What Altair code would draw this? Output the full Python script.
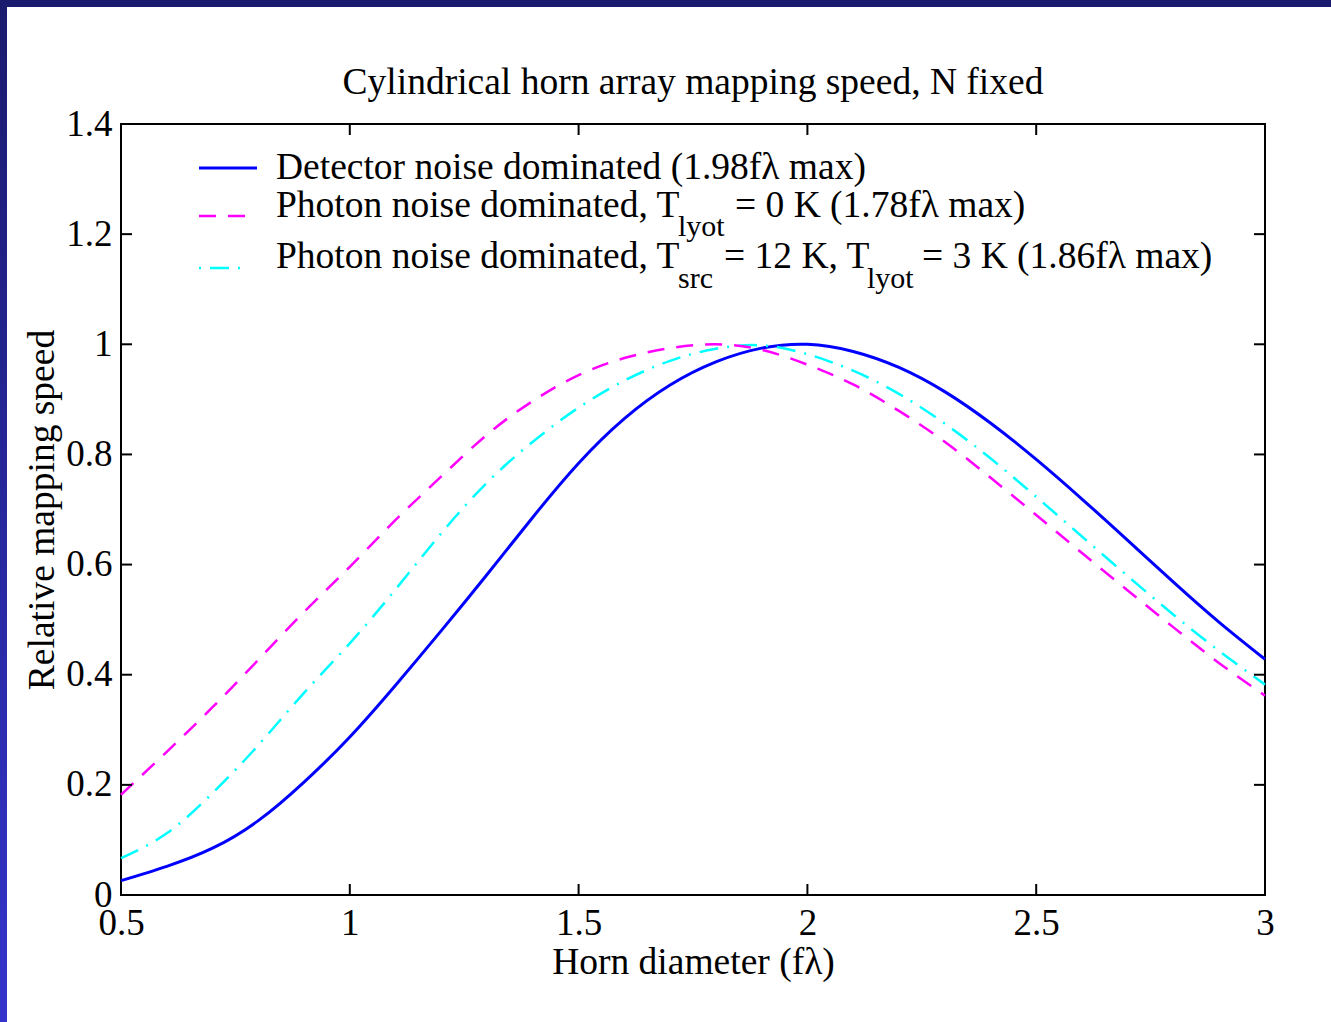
import altair as alt
import pandas as pd

# ---------------- data ----------------
x_vals = [0.5, 0.6, 0.7, 0.8, 0.9, 1.0, 1.1, 1.2, 1.3, 1.4, 1.5, 1.6, 1.7,
          1.8, 1.9, 2.0, 2.1, 2.2, 2.3, 2.4, 2.5, 2.6, 2.7, 2.8, 2.9, 3.0]
detector = [0.026, 0.052, 0.085, 0.135, 0.205, 0.287, 0.381, 0.480, 0.582,
            0.686, 0.784, 0.865, 0.926, 0.968, 0.993, 1.000, 0.987, 0.958,
            0.914, 0.857, 0.791, 0.719, 0.644, 0.568, 0.495, 0.428]
photon_0k = [0.182, 0.260, 0.341, 0.427, 0.514, 0.596, 0.681, 0.760, 0.836,
             0.897, 0.944, 0.975, 0.993, 1.000, 0.990, 0.963, 0.927, 0.879,
             0.823, 0.758, 0.690, 0.621, 0.553, 0.486, 0.421, 0.362]
photon_12k = [0.067, 0.112, 0.185, 0.272, 0.367, 0.457, 0.555, 0.657, 0.749,
              0.823, 0.885, 0.934, 0.970, 0.992, 0.998, 0.982, 0.952, 0.910,
              0.856, 0.793, 0.723, 0.651, 0.579, 0.509, 0.443, 0.382]
x_ticks = [0.5, 1, 1.5, 2, 2.5, 3]
y_ticks = [0, 0.2, 0.4, 0.6, 0.8, 1.0, 1.2, 1.4]

title_text = "Cylindrical horn array mapping speed, N fixed"
x_title = "Horn diameter (f\u03bb)"
y_title = "Relative mapping speed"

# ---------------- layout ----------------
W, H = 1144, 771
PAD = {"left": 121, "top": 124, "right": 66, "bottom": 127}
FONT = "Liberation Serif"
TICK = 11
FS = 37.5

X_ENC = alt.X(
    "x:Q",
    scale=alt.Scale(domain=[0.5, 3], nice=False, zero=False),
    axis=alt.Axis(
        values=x_ticks, format="~g", ticks=False, tickSize=0, domain=False,
        grid=False, labelFont=FONT, labelFontSize=37, labelColor="black",
        labelPadding=10, labelFlush=False, labelOverlap=False,
        title=x_title, titleFont=FONT, titleFontSize=FS,
        titleFontWeight="normal", titleColor="black",
        titleX=W / 2, titleY=78, titleAlign="center",
        titleBaseline="alphabetic",
    ),
)
Y_ENC = alt.Y(
    "y:Q",
    scale=alt.Scale(domain=[0, 1.4], nice=False, zero=False),
    axis=alt.Axis(
        values=y_ticks, format="~g", ticks=False, tickSize=0, domain=False,
        grid=False, labelFont=FONT, labelFontSize=37, labelColor="black",
        labelPadding=9, labelFlush=False, labelOverlap=False,
        title=y_title, titleFont=FONT, titleFontSize=FS,
        titleFontWeight="normal", titleColor="black",
        titleX=-68, titleY=H / 2, titleAngle=270, titleAlign="center",
        titleBaseline="alphabetic",
    ),
)

df_det = pd.DataFrame({"x": x_vals, "y": detector})
df_p0 = pd.DataFrame({"x": x_vals, "y": photon_0k})
df_p12 = pd.DataFrame({"x": x_vals, "y": photon_12k})
df_xt = pd.DataFrame({"x": x_ticks})
df_yt = pd.DataFrame({"y": y_ticks})
one = pd.DataFrame({"k": [0]})

BLUE, MAG, CYAN = "#0000ff", "#ff00ff", "#00ffff"
DASH_M = [17, 12]
DASH_C = [19, 9, 2, 9]

lines = [
    alt.Chart(df_det).mark_line(color=BLUE, strokeWidth=3, interpolate="natural")
    .encode(x=X_ENC, y=Y_ENC),
    alt.Chart(df_p12).mark_line(color=CYAN, strokeWidth=2.5, strokeDash=DASH_C,
                                interpolate="natural").encode(x=X_ENC, y=Y_ENC),
    alt.Chart(df_p0).mark_line(color=MAG, strokeWidth=2.5, strokeDash=DASH_M,
                               interpolate="natural").encode(x=X_ENC, y=Y_ENC),
]

ticks = [
    alt.Chart(df_xt).mark_rule(color="black", strokeWidth=2)
    .encode(x=X_ENC, y=alt.value(H), y2=alt.value(H - TICK)),
    alt.Chart(df_xt).mark_rule(color="black", strokeWidth=2)
    .encode(x=X_ENC, y=alt.value(0), y2=alt.value(TICK)),
    alt.Chart(df_yt).mark_rule(color="black", strokeWidth=2)
    .encode(y=Y_ENC, x=alt.value(0), x2=alt.value(TICK)),
    alt.Chart(df_yt).mark_rule(color="black", strokeWidth=2)
    .encode(y=Y_ENC, x=alt.value(W), x2=alt.value(W - TICK)),
]


def seg(text, px, py, size=FS, align="left"):
    return alt.Chart(one).mark_text(
        text=text, align=align, baseline="alphabetic", font=FONT,
        fontSize=size, color="black",
    ).encode(x=alt.value(px - PAD["left"]), y=alt.value(py - PAD["top"]))


def sample(color, y, x1, x2, dash=None, width=2.5):
    kw = dict(color=color, strokeWidth=width)
    if dash:
        kw["strokeDash"] = dash
    return alt.Chart(one).mark_rule(**kw).encode(
        x=alt.value(x1 - PAD["left"]), x2=alt.value(x2 - PAD["left"]),
        y=alt.value(y - PAD["top"]),
    )


SUB = 30
legend = [
    sample(BLUE, 168, 199, 257, None, 3),
    sample(MAG, 216, 199, 245, DASH_M, 2.5),
    sample(CYAN, 268, 199, 243, [2, 9, 19, 9], 2.5),
    seg("Detector noise dominated (1.98f\u03bb max)", 276, 179),
    seg("Photon noise dominated, T", 276, 217),
    seg("lyot", 678, 236, SUB),
    seg("= 0 K (1.78f\u03bb max)", 735, 217),
    seg("Photon noise dominated, T", 276, 268),
    seg("src", 678, 288, SUB),
    seg("= 12 K, T", 724, 268),
    seg("lyot", 867, 288, SUB),
    seg("= 3 K (1.86f\u03bb max)", 922, 268),
]

title_mark = seg(title_text, 693, 94, FS, "center")

# decorative slide border (top and left strips)
border = [
    alt.Chart(one).mark_rect(color="#1a1a6e").encode(
        x=alt.value(-PAD["left"]), x2=alt.value(1331 - PAD["left"]),
        y=alt.value(-PAD["top"]), y2=alt.value(7 - PAD["top"])),
    alt.Chart(one).mark_rect(
        color=alt.Gradient(
            gradient="linear",
            stops=[alt.GradientStop(color="#1a1a6e", offset=0),
                   alt.GradientStop(color="#3434cc", offset=1)],
            x1=0, x2=0, y1=0, y2=1)
    ).encode(
        x=alt.value(-PAD["left"]), x2=alt.value(7 - PAD["left"]),
        y=alt.value(-PAD["top"]), y2=alt.value(1022 - PAD["top"])),
]

chart = alt.layer(*lines, *ticks, *legend, title_mark, *border).properties(
    width=W, height=H,
    autosize=alt.AutoSizeParams(type="none"),
    padding=PAD,
    background="white",
).configure_view(stroke="black", strokeWidth=2)

chart.save("out.html", embed_options={"renderer": "svg", "actions": False})
